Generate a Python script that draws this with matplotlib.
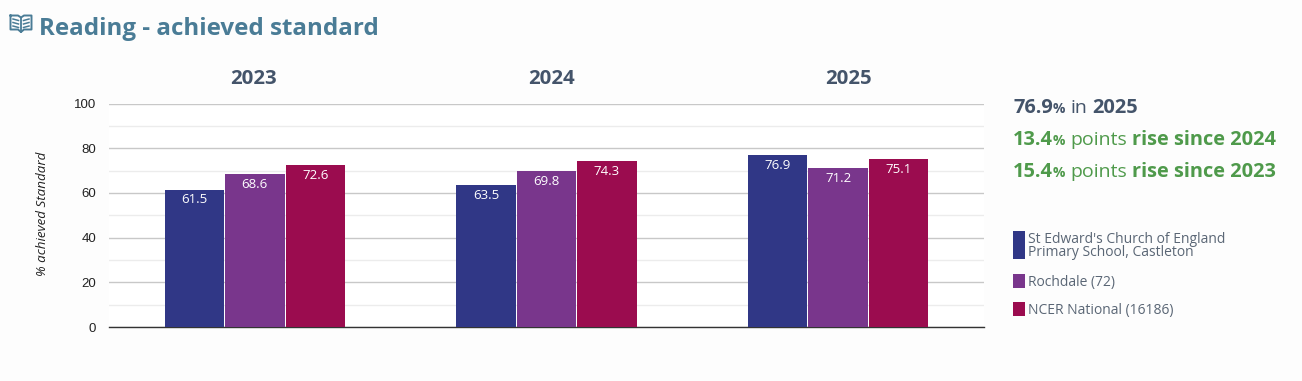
import matplotlib
matplotlib.use("Agg")
import matplotlib.pyplot as plt
import numpy as np
from matplotlib.patches import Rectangle

years = ["2023", "2024", "2025"]
school = [61.5, 63.5, 76.9]
rochdale = [68.6, 69.8, 71.2]
national = [72.6, 74.3, 75.1]
yticks = [0, 20, 40, 60, 80, 100]
minor_yticks = [10, 30, 50, 70, 90]
series_names = ["St Edward's Church of England\nPrimary School, Castleton", "Rochdale (72)", "NCER National (16186)"]
colors = ["#303786", "#79368C", "#9B0C4F"]

W, H = 1302, 381
plt.rcParams['font.family'] = ['Open Sans', 'DejaVu Sans']

fig = plt.figure(figsize=(W/100, H/100), dpi=100, facecolor="#fdfdfd")

def fx(px):
    return px/W

def fy(py):
    return 1-py/H

# plot area in pixels: x 109-984, y 103.5-327
ax = fig.add_axes([fx(109), fy(327), 875/W, 223.5/H])
ax.set_xlim(-0.5, 2.5)
ax.set_ylim(0, 100)
ax.set_facecolor("white")
for s in ["top", "left", "right"]:
    ax.spines[s].set_visible(False)
ax.spines["bottom"].set_color("#333333")
ax.spines["bottom"].set_linewidth(1.0)
ax.set_axisbelow(True)

ax.set_yticks(yticks)
ax.set_yticks(minor_yticks, minor=True)
ax.grid(axis="y", which="major", color="#c8c8c8", lw=1)
ax.grid(axis="y", which="minor", color="#ececec", lw=1)
ax.tick_params(axis="y", which="both", length=0, pad=9.4)
ax.tick_params(axis="x", length=0)
ax.set_yticklabels([str(t) for t in yticks], family="Liberation Sans", fontsize=9.5, color="#222222")
ax.set_xticks([])

x = np.arange(len(years))
step = 0.2074
width = 0.2040
for i, (vals, c) in enumerate(zip([school, rochdale, national], colors)):
    bars = ax.bar(x+(i-1)*step, vals, width, color=c, zorder=3)
    for b, v in zip(bars, vals):
        ax.annotate("%.1f" % v, (b.get_x()+b.get_width()/2, v), xytext=(0, -2.8), textcoords="offset points",
                    ha="center", va="top", color="white", fontsize=9.5, zorder=4)

# year headers sit in their own row, not lined up with the groups
for y, px in zip(years, [253.5, 551.5, 848.5]):
    fig.text(fx(px), fy(78.5), y, ha="center", va="center", color="#44546A", fontsize=14.7, fontweight="bold")

ax.set_ylabel("% achieved Standard", fontsize=9.6, style="italic", color="#222222", labelpad=0)
ax.yaxis.set_label_coords((49-109)/875, 0.505)

# title
fig.text(fx(39), fy(29), "Reading - achieved standard", fontsize=17.4, fontweight="bold", color="#4A7C96", va="center", ha="left")

# open book icon
icon = fig.add_axes([fx(9), fy(36.5), 24/W, 24/H])
icon.set_xlim(0, 24)
icon.set_ylim(24, 0)
icon.axis("off")
ic = "#4A7C96"
icon.plot([1.5, 1.5, 9, 12, 15, 22.5, 22.5, 15, 12, 9, 1.5], [3, 17, 17, 19.5, 17, 17, 3, 3, 5, 3, 3], color=ic, lw=1.4)
icon.plot([12, 12], [5, 19.5], color=ic, lw=1.3)
for yy in [6.5, 10, 13.5]:
    icon.plot([4, 9.5], [yy, yy+1.5], color=ic, lw=1.1)
    icon.plot([20, 14.5], [yy, yy+1.5], color=ic, lw=1.1)

# summary lines, mixed weights
def runs(px, py, parts, color):
    rend = fig.canvas.get_renderer()
    cur = px
    for txt, size, weight, gap in parts:
        t = fig.text(fx(cur), fy(py), txt, fontsize=size, fontweight=weight, color=color, va="baseline", ha="left")
        cur = cur+t.get_window_extent(rend).width+gap

dark = "#44546A"
green = "#4F9A4B"
runs(1013, 113, [("76.9", 14.4, "bold", 0), ("%", 10, "bold", 5), ("in", 14, "normal", 5), ("2025", 14.4, "bold", 0)], dark)
runs(1013, 145, [("13.4", 14.4, "bold", 0), ("%", 10, "bold", 5), ("points", 14, "normal", 5), ("rise since 2024", 14.4, "bold", 0)], green)
runs(1013, 177, [("15.4", 14.4, "bold", 0), ("%", 10, "bold", 5), ("points", 14, "normal", 5), ("rise since 2023", 14.4, "bold", 0)], green)

# legend
legend_boxes = [(231, 28, 1), (274, 14, 1.4), (302, 14, 1.4)]
for name, c, (top, h, nudge) in zip(series_names, colors, legend_boxes):
    fig.add_artist(Rectangle((fx(1013), fy(top+h)), 12/W, h/H, transform=fig.transFigure, color=c, lw=0))
    fig.text(fx(1028), fy(top+h/2+nudge), name, fontsize=10, color="#5A6675", va="center", ha="left", linespacing=0.9)

fig.savefig("out.png", dpi=100, facecolor=fig.get_facecolor())
